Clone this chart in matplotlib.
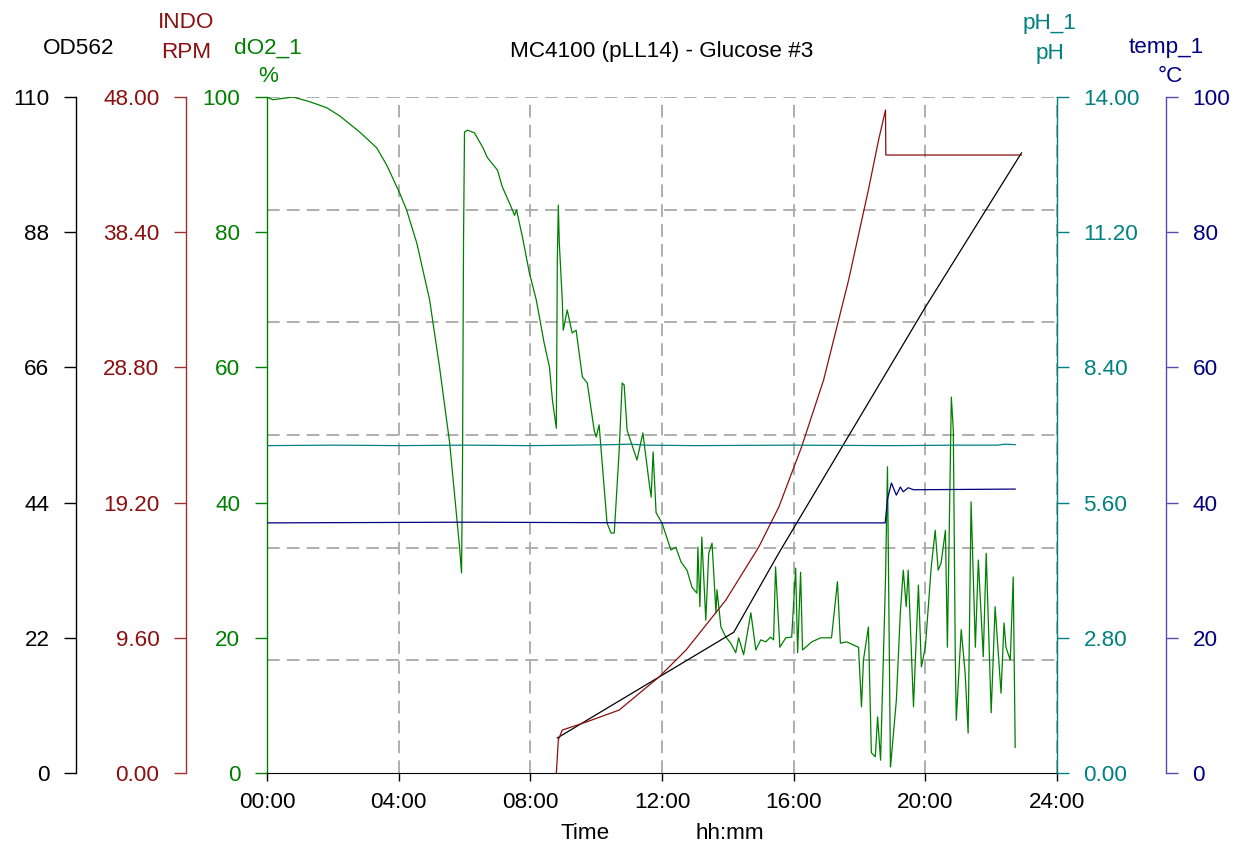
import matplotlib
matplotlib.use("Agg")
from matplotlib import pyplot as plt
import numpy as np

# fermentation run MC4100 (pLL14), glucose batch #3 -- time in hours
do2_time = [0.00, 0.18, 0.79, 1.30, 1.82, 2.21, 2.82, 3.33, 3.64, 4.03, 4.24, 4.55,
            4.79, 4.94, 5.24, 5.55, 5.76, 5.85, 5.91, 5.94, 5.97, 6.00, 6.09, 6.30,
            6.55, 6.70, 7.00, 7.15, 7.42, 7.52, 7.58, 7.76, 7.97, 8.18, 8.42, 8.58,
            8.67, 8.79, 8.82, 8.85, 8.88, 8.97, 9.00, 9.12, 9.27, 9.39, 9.58, 9.73,
            9.94, 10.00, 10.09, 10.15, 10.33, 10.45, 10.55, 10.70, 10.79, 10.85, 10.94, 11.24,
            11.42, 11.61, 11.67, 11.73, 11.82, 12.00, 12.27, 12.42, 12.58, 12.76, 12.91, 13.06,
            13.09, 13.15, 13.21, 13.33, 13.42, 13.52, 13.64, 13.67, 13.79, 13.94, 14.09, 14.24,
            14.33, 14.48, 14.70, 14.85, 15.00, 15.15, 15.30, 15.39, 15.45, 15.58, 15.76, 15.94,
            16.06, 16.12, 16.21, 16.27, 16.55, 16.82, 17.15, 17.33, 17.42, 17.61, 17.97, 18.06,
            18.12, 18.27, 18.36, 18.48, 18.55, 18.64, 18.79, 18.85, 18.94, 18.97, 19.12, 19.24,
            19.33, 19.42, 19.48, 19.64, 19.79, 19.88, 20.00, 20.18, 20.30, 20.39, 20.48, 20.61,
            20.67, 20.79, 20.85, 20.91, 20.94, 21.09, 21.21, 21.30, 21.39, 21.52, 21.61, 21.76,
            21.85, 22.00, 22.12, 22.30, 22.39, 22.45, 22.58, 22.67, 22.73]
do2_pct = [100.0, 99.6, 100.0, 99.3, 98.4, 97.2, 94.8, 92.5, 89.9, 85.8, 83.3, 78.4,
           73.2, 70.0, 60.1, 48.8, 37.9, 33.4, 29.6, 45.9, 78.4, 94.8, 95.1, 94.7,
           92.6, 91.0, 89.2, 86.7, 83.7, 82.5, 83.3, 79.3, 74.0, 70.0, 63.6, 60.1,
           55.2, 51.0, 75.9, 84.0, 78.4, 70.0, 65.5, 68.5, 65.1, 65.5, 58.6, 57.7,
           50.7, 49.7, 51.5, 47.8, 37.0, 35.5, 35.5, 47.8, 57.7, 57.4, 50.7, 46.3,
           50.3, 42.9, 40.8, 47.5, 38.5, 37.0, 33.0, 33.4, 31.2, 30.0, 27.5, 26.6,
           33.4, 24.6, 34.9, 22.6, 32.5, 34.0, 23.7, 27.1, 21.6, 20.1, 19.2, 17.8,
           20.0, 17.5, 23.7, 18.2, 19.7, 19.4, 20.1, 19.7, 30.5, 18.6, 20.0, 20.1,
           30.3, 17.8, 29.7, 18.2, 19.4, 20.0, 20.0, 28.3, 19.2, 19.4, 18.6, 9.8,
           16.7, 21.6, 3.0, 2.4, 8.3, 1.9, 28.6, 45.3, 0.9, 2.4, 10.8, 23.7,
           30.0, 24.6, 30.0, 9.8, 27.8, 15.7, 18.6, 30.5, 35.9, 30.0, 31.1, 35.9,
           18.6, 55.6, 50.7, 17.2, 7.8, 21.2, 14.8, 5.9, 40.1, 18.6, 31.5, 17.2,
           32.5, 8.9, 24.6, 11.8, 22.2, 18.6, 16.7, 29.0, 3.8]

od_time = [8.82, 14.18, 15.55, 20.00, 22.92]
od_value = [5.7, 22.9, 35.8, 75.8, 100.9]

rpm_time = [8.79, 8.85, 8.97, 9.70, 10.70, 11.91, 12.73, 13.94, 14.94, 15.55,
            16.24, 16.91, 17.67, 18.27, 18.58, 18.79, 18.80, 22.92]
rpm_value = [0.0, 2.34, 3.05, 3.62, 4.47, 6.82, 8.73, 12.28, 16.05, 18.89,
             23.15, 27.91, 35.01, 41.40, 44.95, 47.08, 43.88, 43.88]

ph_time = [0.0, 2.0, 4.0, 6.0, 8.0, 9.5, 10.5, 11.0, 11.5, 13.0, 16.0, 19.0, 21.0, 22.2, 22.4, 22.73]
ph_value = [6.78, 6.79, 6.78, 6.79, 6.78, 6.79, 6.80, 6.81, 6.79, 6.78, 6.79, 6.78, 6.79, 6.79, 6.81, 6.80]

temp_time = [0.0, 6.0, 12.0, 18.78, 18.85, 18.97, 19.12, 19.24, 19.33, 19.48, 19.64, 22.73]
temp_value = [37.0, 37.1, 37.0, 37.0, 40.5, 42.9, 41.1, 42.3, 41.6, 42.2, 41.9, 42.0]

hour_ticks = [0, 4, 8, 12, 16, 20, 24]

GREEN = "#008000"
RED = "#8b1010"
TEAL = "#008080"
NAVY = "#000080"
W, H = 1236, 846

plt.rcParams["font.family"] = ["Liberation Sans", "DejaVu Sans"]
FS = 16.2


def px(x, y):
    return x / W, 1 - y / H


def style_axis(a, side, pos, color, spine_color, lim, ticks, fmt):
    for name, sp in a.spines.items():
        sp.set_visible(name == side)
    a.spines[side].set_position(("axes", pos))
    a.spines[side].set_color(spine_color)
    a.spines[side].set_linewidth(1.0)
    a.set_ylim(*lim)
    a.set_yticks(ticks)
    a.set_yticklabels([fmt % t for t in ticks])
    if side == "left":
        a.yaxis.set_ticks_position("left")
    else:
        a.yaxis.set_ticks_position("right")
    a.tick_params(axis="y", direction="out", length=8.6, width=1.0, pad=10.5,
                  color=spine_color, labelcolor=color, labelsize=FS)


fig = plt.figure(figsize=(W / 100, H / 100), dpi=100)
ax = fig.add_axes([267 / W, 73 / H, 790 / W, 676 / H])
ax_od = ax.twinx()
ax_rpm = ax.twinx()
ax_ph = ax.twinx()
ax_temp = ax.twinx()

style_axis(ax, "left", 0.0, GREEN, GREEN, (0, 100), np.arange(0, 101, 20), "%d")
ax.spines["bottom"].set_visible(True)
ax.spines["bottom"].set_color("black")
style_axis(ax_od, "left", -191 / 790, "black", "black", (0, 110), np.arange(0, 111, 22), "%d")
style_axis(ax_rpm, "left", -81 / 790, RED, "#a03030", (0, 48), np.linspace(0, 48, 6), "%.2f")
style_axis(ax_ph, "right", 1.0, TEAL, TEAL, (0, 14), np.linspace(0, 14, 6), "%.2f")
style_axis(ax_temp, "right", 899 / 790, NAVY, "#5050a8", (0, 100), np.arange(0, 101, 20), "%d")

# time axis
ax.set_xlim(0, 24)
ax.set_xticks(hour_ticks)
ax.set_xticklabels(["%02d:00" % h for h in hour_ticks])
ax.tick_params(axis="x", direction="out", length=6, width=1.0, pad=8.0,
               color="black", labelsize=FS)

# dashed grid: 4 h verticals, sixths horizontally
for h in hour_ticks[1:]:
    ax.axvline(h, color="#a8a8a8", lw=1.3, dashes=(7, 4), zorder=0)
for k in range(1, 7):
    ax.axhline(100 * k / 6, color="#a8a8a8", lw=1.3, dashes=(7, 4), zorder=0)

ax.plot(do2_time, do2_pct, color=GREEN, lw=0.9)
ax_od.plot(od_time, od_value, color="black", lw=0.9)
ax_rpm.plot(rpm_time, rpm_value, color=RED, lw=0.9)
ax_ph.plot(ph_time, ph_value, color=TEAL, lw=0.9)
ax_temp.plot(temp_time, temp_value, color=NAVY, lw=0.9)

# headers above each scale
fig.text(*px(662, 52), "MC4100 (pLL14) - Glucose #3", ha="center", va="center", fontsize=FS)
fig.text(*px(79, 48), "OD562", ha="center", va="center", fontsize=FS, color="black")
fig.text(*px(186, 22), "INDO", ha="center", va="center", fontsize=FS, color=RED)
fig.text(*px(186, 52), "RPM", ha="center", va="center", fontsize=FS, color=RED)
fig.text(*px(268, 48), "dO2_1", ha="center", va="center", fontsize=FS, color=GREEN)
fig.text(*px(268, 77), "%", ha="center", va="center", fontsize=FS, color=GREEN)
fig.text(*px(1050, 23), "pH_1", ha="center", va="center", fontsize=FS, color=TEAL)
fig.text(*px(1050, 53), "pH", ha="center", va="center", fontsize=FS, color=TEAL)
fig.text(*px(1166, 48), "temp_1", ha="center", va="center", fontsize=FS, color=NAVY)
fig.text(*px(1170, 76), "°C", ha="center", va="center", fontsize=FS, color=NAVY)
fig.text(*px(585, 833), "Time", ha="center", va="center", fontsize=FS)
fig.text(*px(730, 833), "hh:mm", ha="center", va="center", fontsize=FS)

fig.savefig("out.png", dpi=100, facecolor="white")
